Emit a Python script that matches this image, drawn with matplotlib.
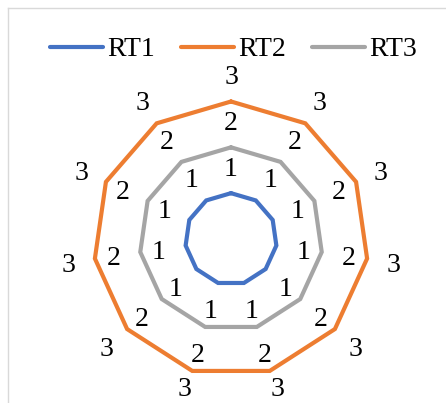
import numpy as np
import matplotlib
matplotlib.use("Agg")
import matplotlib.pyplot as plt
from matplotlib.lines import Line2D

categories = ["C1", "C2", "C3", "C4", "C5", "C6", "C7", "C8", "C9", "C10", "C11"]
rt1 = [1, 1, 1, 1, 1, 1, 1, 1, 1, 1, 1]
rt2 = [3, 3, 3, 3, 3, 3, 3, 3, 3, 3, 3]
rt3 = [2, 2, 2, 2, 2, 2, 2, 2, 2, 2, 2]
series_names = ["RT1", "RT2", "RT3"]
series_values = [rt1, rt2, rt3]
colors = ["#4472C4", "#ED7D31", "#A5A5A5"]

plt.rcParams['font.family'] = ['Liberation Serif', 'DejaVu Serif']

W, H, DPI = 446, 403, 100
fig = plt.figure(figsize=(W / DPI, H / DPI), dpi=DPI)

cx, cy, R = 231.0, 239.0, 137.5
ax = fig.add_axes([(cx - R) / W, 1 - (cy + R) / H, 2 * R / W, 2 * R / H], projection='polar')
ax.set_theta_offset(np.pi / 2)
ax.set_theta_direction(-1)
ax.set_ylim(0, 3)
ax.grid(False)
ax.set_xticks([])
ax.set_yticks([])
ax.spines['polar'].set_visible(False)
ax.patch.set_visible(False)

n = len(categories)
angles = [2 * np.pi * i / n for i in range(n)]
handles = []
off = 27
ymin_disp = H - 387  # keep labels inside the chart area
for name, vals, col in zip(series_names, series_values, colors):
    th = angles + angles[:1]
    rv = list(vals) + [vals[0]]
    ln, = ax.plot(th, rv, color=col, lw=3, clip_on=False,
                  solid_joinstyle='miter', solid_capstyle='round', label=name)
    handles.append(ln)
    for a, v in zip(angles, vals):
        px, py = ax.transData.transform((a, v))
        lx = px + off * np.sin(a)
        ly = max(py + off * np.cos(a), ymin_disp)
        fig.text(lx / W, ly / H, str(v), ha='center', va='center_baseline',
                 fontsize=20, color='black')

leg = fig.legend(handles=handles, loc='center', bbox_to_anchor=(233.5 / W, 1 - 49.5 / H),
                 ncol=3, frameon=False, fontsize=20, handlelength=1.9,
                 handletextpad=0.15, columnspacing=0.94, borderpad=0, borderaxespad=0)

# chart area border (partially visible)
fig.add_artist(Line2D([7.5 / W, 7.5 / W], [1 - 8 / H, 0], transform=fig.transFigure,
                      color='#D9D9D9', lw=1))
fig.add_artist(Line2D([7.5 / W, 1], [1 - 8 / H, 1 - 8 / H], transform=fig.transFigure,
                      color='#D9D9D9', lw=1))

fig.savefig("out.png", dpi=DPI)
